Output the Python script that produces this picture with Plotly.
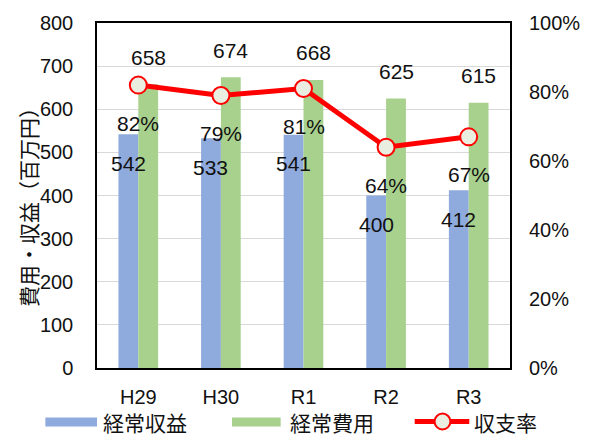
import plotly.graph_objects as go

# 年度ごとの経常収益・経常費用（百万円）と収支率（%）
years = ["H29", "H30", "R1", "R2", "R3"]
revenue = [542, 533, 541, 400, 412]      # 経常収益
expense = [658, 674, 668, 625, 615]      # 経常費用
ratio = [82, 79, 81, 64, 67]             # 収支率（%）

left_ticks = [0, 100, 200, 300, 400, 500, 600, 700, 800]
right_ticks = [0, 20, 40, 60, 80, 100]
right_labels = ["0%", "20%", "40%", "60%", "80%", "100%"]

legend_names = ["経常収益", "経常費用", "収支率"]
y_title = "費用・収益（百万円）"

BLUE = "#8FAADC"
GREEN = "#A9D18E"
RED = "#FF0000"
MARKER_FILL = "#E9EEE1"
NUM_FONT = "Liberation Sans, Arial, sans-serif"
JP_FONT = "Noto Sans CJK JP, sans-serif"

W, H = 592, 436
ML, MR, MT, MB = 97, 79, 20, 68
PW, PH = W - ML - MR, H - MT - MB


def px_x(px):
    return (px - ML) / PW


def px_y(py):
    return (H - MB - py) / PH


fig = go.Figure()
fig.add_trace(go.Bar(x=years, y=revenue, name=legend_names[0],
                     marker=dict(color=BLUE, line=dict(width=0)),
                     showlegend=False))
fig.add_trace(go.Bar(x=years, y=expense, name=legend_names[1],
                     marker=dict(color=GREEN, line=dict(width=0)),
                     showlegend=False))
fig.add_trace(go.Scatter(x=years, y=ratio, name=legend_names[2], yaxis="y2",
                         mode="lines+markers",
                         line=dict(color=RED, width=5),
                         marker=dict(size=17, color=MARKER_FILL,
                                     line=dict(color=RED, width=2)),
                         showlegend=False, cliponaxis=False))

annotations = []
for yr, rv, ex, rt in zip(years, revenue, expense, ratio):
    annotations.append(dict(x=yr, y=rv, xref="x", yref="y", text=str(rv),
                            showarrow=False, xshift=-10, yshift=-29,
                            font=dict(family=NUM_FONT, size=21, color="#111")))
    annotations.append(dict(x=yr, y=ex, xref="x", yref="y", text=str(ex),
                            showarrow=False, xshift=10, yshift=27,
                            font=dict(family=NUM_FONT, size=21, color="#111")))
    annotations.append(dict(x=yr, y=rt, xref="x", yref="y2", text=f"{rt}%",
                            showarrow=False, yshift=-38,
                            font=dict(family=NUM_FONT, size=21, color="#111")))

# 縦軸タイトル
annotations.append(dict(x=px_x(28), y=px_y(200), xref="paper", yref="paper",
                        text=y_title, textangle=-90, showarrow=False,
                        xanchor="center", yanchor="middle",
                        font=dict(family=JP_FONT, size=21, color="#111")))

# 凡例（色見本＋名称）
shapes = []
leg_y = 422
shapes.append(dict(type="rect", xref="paper", yref="paper",
                   x0=px_x(45), x1=px_x(97), y0=px_y(418), y1=px_y(427),
                   fillcolor=BLUE, line=dict(width=0)))
shapes.append(dict(type="rect", xref="paper", yref="paper",
                   x0=px_x(233), x1=px_x(282), y0=px_y(418), y1=px_y(427),
                   fillcolor=GREEN, line=dict(width=0)))
shapes.append(dict(type="line", xref="paper", yref="paper",
                   x0=px_x(417), x1=px_x(472), y0=px_y(leg_y), y1=px_y(leg_y),
                   line=dict(color=RED, width=5)))
shapes.append(dict(type="circle", xref="paper", yref="paper",
                   x0=px_x(437), x1=px_x(453), y0=px_y(leg_y - 8), y1=px_y(leg_y + 8),
                   fillcolor=MARKER_FILL, line=dict(color=RED, width=2)))
for name, left in zip(legend_names, [102, 290, 476]):
    annotations.append(dict(x=px_x(left), y=px_y(422), xref="paper", yref="paper",
                            text=name, showarrow=False, xanchor="left",
                            yanchor="middle", borderpad=0,
                            font=dict(family=JP_FONT, size=21, color="#111")))

fig.update_layout(
    width=W, height=H,
    margin=dict(l=ML, r=MR, t=MT, b=MB),
    paper_bgcolor="white", plot_bgcolor="white",
    barmode="group", bargap=0.52, bargroupgap=0,
    showlegend=False,
    xaxis=dict(type="category", range=[-0.5, 4.5],
               showline=True, linecolor="black", linewidth=1.5, mirror=True,
               showgrid=False, ticks="", ticklabelstandoff=10,
               tickfont=dict(family=NUM_FONT, size=20, color="#111")),
    yaxis=dict(range=[0, 800], tickvals=left_ticks,
               showline=True, linecolor="black", linewidth=1.5, mirror=True,
               showgrid=True, gridcolor="#D9D9D9", gridwidth=1.2,
               zeroline=False, ticks="", ticklabelstandoff=18,
               tickfont=dict(family=NUM_FONT, size=20, color="#111")),
    yaxis2=dict(range=[0, 100], tickvals=right_ticks, ticktext=right_labels,
                overlaying="y", side="right",
                showline=False, showgrid=False, zeroline=False,
                ticks="", ticklabelstandoff=18,
                tickfont=dict(family=NUM_FONT, size=20, color="#111")),
    annotations=annotations,
    shapes=shapes,
)

fig.write_html("out.html")
